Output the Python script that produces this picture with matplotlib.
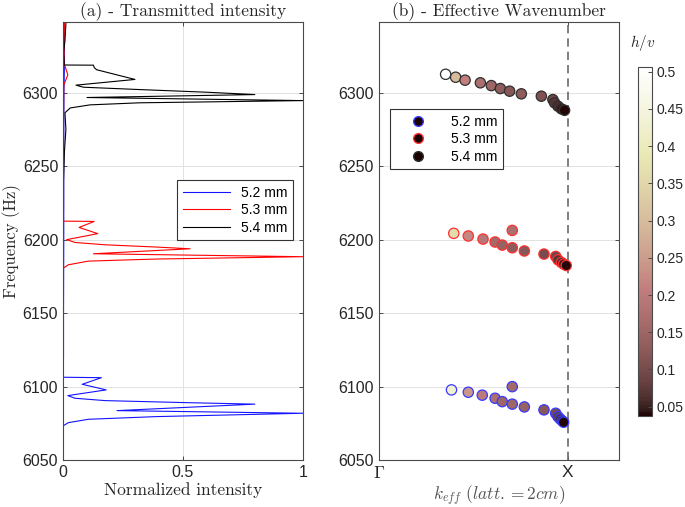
import numpy as np
import matplotlib
matplotlib.use("Agg")
import matplotlib.pyplot as plt
from matplotlib.lines import Line2D

plt.rcParams["font.family"] = ["Liberation Sans", "DejaVu Sans"]
plt.rcParams["mathtext.fontset"] = "cm"

# ---- (a) transmitted intensity: (frequency, normalized intensity)
labels = ["5.2 mm", "5.3 mm", "5.4 mm"]
line_colors = ["#1414ff", "#ff0000", "#000000"]

f_52 = [6349, 6320, 6300, 6250, 6200, 6150, 6120, 6106.3, 6106.0, 6101.5, 6097.7, 6093.8,
        6092.0, 6090.4, 6089.0, 6088.0, 6083.6, 6081.8, 6079.5, 6077.7, 6075.4, 6073.2, 6060, 6050]
i_52 = [0.004, 0.006, 0.004, 0.003, 0.003, 0.002, 0.002, 0.0, 0.16, 0.08, 0.18, 0.02,
        0.05, 0.176, 0.52, 0.80, 0.225, 1.0, 0.385, 0.106, 0.022, 0.0, 0.0, 0.0]

f_53 = [6349, 6320, 6312, 6305, 6280, 6250, 6220, 6212.5, 6212.3, 6208.2, 6204.0, 6199.9,
        6198.0, 6196.4, 6194.9, 6193.7, 6190.3, 6188.3, 6186.7, 6185.3, 6182.8, 6180.4, 6150, 6100, 6050]
i_53 = [0.006, 0.004, 0.02, 0.003, 0.002, 0.002, 0.002, 0.0, 0.13, 0.067, 0.145, 0.015,
        0.05, 0.176, 0.385, 0.53, 0.127, 1.0, 0.385, 0.106, 0.022, 0.0, 0.0, 0.0, 0.0]

f_54 = [6349.7, 6335, 6327, 6320.7, 6318.7, 6318.6, 6317.0, 6315.5, 6308.9, 6305.0, 6303.6,
        6302.0, 6300.2, 6298.6, 6296.6, 6294.5, 6293.0, 6291.6, 6289.5, 6286.2, 6275, 6260, 6240, 6150, 6050]
i_54 = [0.013, 0.008, 0.002, 0.005, 0.005, 0.127, 0.13, 0.14, 0.30, 0.054, 0.085,
        0.32, 0.60, 0.80, 0.10, 1.0, 0.32, 0.113, 0.03, 0.008, 0.012, 0.006, 0.002, 0.001, 0.0]

# ---- (b) effective wavenumber points (k in units of X, frequency, h/v)
k_52 = [0.385, 0.474, 0.548, 0.616, 0.654, 0.707, 0.707, 0.771, 0.875, 0.937, 0.949, 0.961, 0.972, 0.979]
fk_52 = [6097.7, 6096.1, 6094.1, 6092.0, 6089.7, 6099.9, 6088.0, 6086.1, 6084.1, 6081.8, 6079.5, 6077.9, 6076.6, 6075.7]
hv_52 = [0.43, 0.24, 0.20, 0.17, 0.15, 0.16, 0.15, 0.14, 0.12, 0.10, 0.08, 0.06, 0.05, 0.04]

k_53 = [0.397, 0.474, 0.552, 0.616, 0.654, 0.707, 0.707, 0.771, 0.875, 0.937, 0.949, 0.967, 0.979, 0.993]
fk_53 = [6204.2, 6202.4, 6200.3, 6198.3, 6196.2, 6206.2, 6194.4, 6192.2, 6190.1, 6188.5, 6186.2, 6184.4, 6183.3, 6182.3]
hv_53 = [0.36, 0.22, 0.19, 0.16, 0.14, 0.17, 0.13, 0.12, 0.10, 0.09, 0.07, 0.06, 0.05, 0.04]

k_54 = [0.354, 0.407, 0.457, 0.538, 0.596, 0.644, 0.693, 0.755, 0.861, 0.922, 0.931, 0.949, 0.967, 0.984]
fk_54 = [6312.4, 6310.4, 6308.4, 6306.6, 6304.7, 6302.7, 6300.9, 6299.1, 6297.5, 6295.2, 6293.0, 6290.7, 6288.9, 6287.9]
hv_54 = [0.51, 0.30, 0.21, 0.17, 0.15, 0.13, 0.12, 0.13, 0.11, 0.09, 0.07, 0.06, 0.05, 0.04]

edge_colors = ["#3a3aff", "#ff3030", "#303030"]
cbar_ticks = [0.05, 0.1, 0.15, 0.2, 0.25, 0.3, 0.35, 0.4, 0.45, 0.5]
cbar_labels = ["0.05", "0.1", "0.15", "0.2", "0.25", "0.3", "0.35", "0.4", "0.45", "0.5"]

axis_col = "#4a4a4a"
text_col = "#262626"
grid_col = "#e2e2e2"
serif = "cmr10"

fig = plt.figure(figsize=(6.85, 5.07), dpi=100)
ax1 = fig.add_axes([0.092, 0.0927, 0.350, 0.864])
ax2 = fig.add_axes([0.553, 0.0927, 0.350, 0.864])
cax = fig.add_axes([0.931, 0.1795, 0.0204, 0.688])


def style_axes(ax):
    for sp in ax.spines.values():
        sp.set_color(axis_col)
        sp.set_linewidth(0.8)
    ax.tick_params(direction="in", length=3, width=0.7, color=axis_col,
                   labelcolor=text_col, labelsize=11.5, top=True, right=True)
    ax.set_axisbelow(True)


# panel (a)
for f, i, c, lab in zip([f_52, f_53, f_54], [i_52, i_53, i_54], line_colors, labels):
    ax1.plot(i, f, color=c, lw=0.8, label=lab)
ax1.set_xlim(0, 1)
ax1.set_ylim(6050, 6348)
ax1.set_xticks([0, 0.5, 1])
ax1.set_xticklabels(["0", "0.5", "1"])
ax1.set_yticks([6050, 6100, 6150, 6200, 6250, 6300])
ax1.grid(True, color=grid_col, lw=0.7)
style_axes(ax1)
ax1.set_title("(a) - Transmitted intensity", fontfamily=serif, fontsize=12.5, color=text_col, pad=4)
ax1.set_xlabel("Normalized intensity", fontfamily=serif, fontsize=12.5, color=text_col, labelpad=2)
ax1.set_ylabel("Frequency (Hz)", fontfamily=serif, fontsize=12, color=text_col, labelpad=1)
leg1 = ax1.legend(loc="upper right", bbox_to_anchor=(0.99, 0.655), fontsize=10,
                  handlelength=3.4, fancybox=False, edgecolor="#333333", framealpha=1,
                  borderpad=0.4, labelspacing=0.25)
leg1.get_frame().set_linewidth(0.8)

# panel (b)
vmin, vmax = 0.0375, 0.506
sc = None
for k, f, hv, ec in zip([k_52, k_53, k_54], [fk_52, fk_53, fk_54], [hv_52, hv_53, hv_54], edge_colors):
    sc = ax2.scatter(k, f, c=hv, cmap="pink", vmin=vmin, vmax=vmax, s=55,
                     edgecolors=ec, linewidths=0.9, zorder=3)
ax2.axvline(1.0, color="#6a6a6a", ls=(0, (5, 3)), lw=1.2, zorder=2)
ax2.set_xlim(0, 1.27)
ax2.set_ylim(6050, 6348)
ax2.set_xticks([0, 1])
ax2.set_xticklabels([r"$\Gamma$", "X"])
ax2.set_yticks([6050, 6100, 6150, 6200, 6250, 6300])
ax2.grid(True, axis="y", color=grid_col, lw=0.7)
style_axes(ax2)
ax2.tick_params(axis="x", labelsize=12.5)
ax2.set_title("(b) - Effective Wavenumber", fontfamily=serif, fontsize=12.5, color=text_col, pad=4)
ax2.set_xlabel(r"$k_{eff}\ (latt. = 2cm)$", fontsize=12.5, color="#555555", labelpad=2)

handles = [Line2D([], [], ls="none", marker="o", markersize=7, markerfacecolor="#1a0000",
                  markeredgecolor=ec, markeredgewidth=1.0) for ec in edge_colors]
leg2 = ax2.legend(handles, labels, loc="upper left", bbox_to_anchor=(0.017, 0.817), fontsize=10,
                  handlelength=3.2, fancybox=False, edgecolor="#333333", framealpha=1,
                  borderpad=0.4, labelspacing=0.25)
leg2.get_frame().set_linewidth(0.8)

# colorbar
cb = fig.colorbar(sc, cax=cax)
cb.set_ticks(cbar_ticks)
cb.set_ticklabels(cbar_labels)
cb.outline.set_edgecolor(axis_col)
cb.outline.set_linewidth(0.8)
cax.tick_params(direction="in", length=3, width=0.7, color=axis_col, labelcolor=text_col,
                labelsize=10)
fig.text(0.939, 0.915, r"$h/v$", fontsize=11, ha="center", va="center", color=text_col)

fig.savefig("out.png", dpi=100)
